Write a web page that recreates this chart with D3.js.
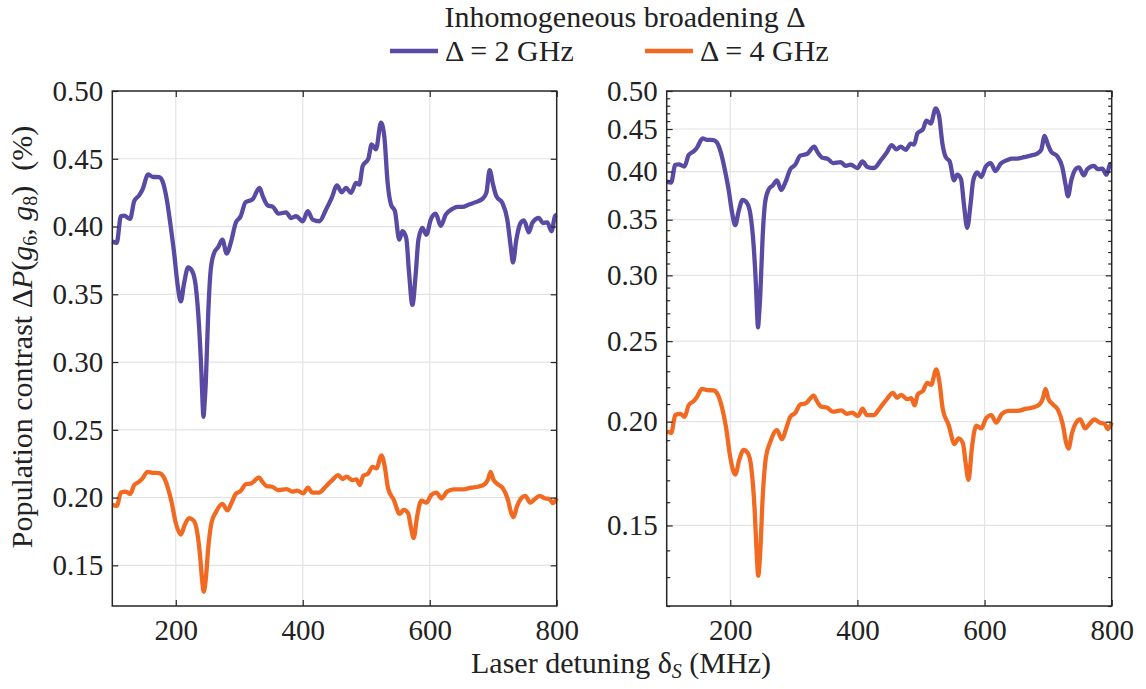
<!DOCTYPE html>
<html>
<head>
<meta charset="utf-8">
<script src="https://cdn.jsdelivr.net/npm/d3@7"></script>
<style>
  html, body { margin: 0; padding: 0; background: #fff; }
  svg text { font-family: "Liberation Serif", "Times New Roman", serif !important; fill: #222; }
</style>
</head>
<body>
<div id="chart"></div>
<script>
// Δ = 2 GHz
const detuning2 = [100, 107, 113.5, 118.7, 128, 134.5, 142.3, 147.6, 156.5, 163.3, 173.8, 179, 185.8, 192, 197.4, 202.6, 207.9, 213, 219.4, 226, 231.5, 236.7, 240.4, 242.2, 243.6, 245.2, 247.2, 250.9, 255, 260.3, 267, 273.4, 280.2, 286.5, 294.4, 302.2, 310, 320.6, 332, 337, 345, 353, 361.7, 373.8, 381.6, 389.5, 400, 407.9, 415.7, 426.2, 436.7, 445.6, 454, 461.3, 468.1, 476, 483.9, 489.1, 494.4, 503.3, 508.5, 515.3, 523.2, 528.4, 533.7, 539, 545.2, 552, 557, 563, 567.5, 572.7, 578, 582.2, 588.5, 594.8, 601.6, 609.4, 617.3, 625.2, 635.7, 643.5, 651.4, 661.9, 672.4, 682.9, 689.2, 694.4, 699.7, 704.9, 714.4, 722.2, 727.5, 731.2, 736.4, 743.1, 748.4, 756.2, 761.5, 772, 778.3, 785.1, 791.9, 797.2, 800];
const contrast2 = [0.389, 0.388, 0.4076, 0.408, 0.4056, 0.4187, 0.423, 0.4273, 0.4384, 0.4367, 0.4364, 0.4335, 0.420, 0.400, 0.3804, 0.358, 0.3447, 0.358, 0.3698, 0.3669, 0.3558, 0.3262, 0.2916, 0.270, 0.2596, 0.268, 0.284, 0.3336, 0.368, 0.3804, 0.385, 0.3903, 0.380, 0.3878, 0.4026, 0.4076, 0.418, 0.4199, 0.4285, 0.4224, 0.4155, 0.4145, 0.4095, 0.4105, 0.4063, 0.4076, 0.4039, 0.4113, 0.4051, 0.4039, 0.4125, 0.4211, 0.4303, 0.4253, 0.4285, 0.4248, 0.4322, 0.431, 0.4446, 0.45, 0.4606, 0.4569, 0.4766, 0.4668, 0.4322, 0.4162, 0.4113, 0.3903, 0.3965, 0.3915, 0.3656, 0.3422, 0.3656, 0.3903, 0.3989, 0.394, 0.4051, 0.4095, 0.4005, 0.4088, 0.413, 0.4145, 0.4145, 0.4162, 0.418, 0.4204, 0.4248, 0.4416, 0.431, 0.4224, 0.4174, 0.4051, 0.3854, 0.3735, 0.3903, 0.4026, 0.4046, 0.3957, 0.4026, 0.4063, 0.4026, 0.4031, 0.3965, 0.4076, 0.4088];

// Δ = 4 GHz
const detuning4 = [100, 107.2, 113.5, 121.4, 128.2, 134.5, 142.3, 147.6, 155.5, 163.3, 173.8, 180.6, 186.9, 193.2, 200, 207.9, 214.2, 221, 227.8, 233, 238.3, 241.4, 244, 247.2, 250.9, 256.1, 262.9, 273.4, 281.3, 287.6, 294.4, 302.2, 310.1, 319, 331.1, 336.3, 343.1, 352, 361, 374.6, 383.5, 391.4, 400.8, 408.1, 414.9, 425.4, 435.9, 446.4, 455.8, 462.6, 468.9, 478.3, 484.6, 489.9, 495.1, 503, 509.8, 516.1, 524, 529.2, 534.4, 543.4, 552.8, 559.1, 565.9, 570.1, 574.8, 580.1, 586.9, 594.8, 602.6, 610.5, 618.4, 627.3, 637.7, 652.4, 665.5, 676, 686.5, 691.8, 695.9, 700.6, 707.5, 715.3, 723.2, 728.4, 732.1, 737.3, 744.1, 750.4, 758.3, 765.1, 773, 780.8, 788.7, 794, 800];
const contrast4 = [0.1946, 0.1939, 0.2037, 0.2044, 0.2027, 0.2093, 0.2117, 0.2142, 0.219, 0.2183, 0.2181, 0.2154, 0.2081, 0.1971, 0.1812, 0.1727, 0.18, 0.1849, 0.1832, 0.1763, 0.1568, 0.1397, 0.1305, 0.1397, 0.1617, 0.1812, 0.189, 0.1954, 0.1905, 0.1959, 0.2027, 0.2049, 0.2098, 0.2105, 0.2149, 0.2117, 0.2085, 0.208, 0.2056, 0.2063, 0.2044, 0.2051, 0.2032, 0.2073, 0.2037, 0.2037, 0.208, 0.2129, 0.2166, 0.2137, 0.2154, 0.2129, 0.2134, 0.2093, 0.2159, 0.2178, 0.2227, 0.2215, 0.2312, 0.2227, 0.2068, 0.1983, 0.188, 0.191, 0.1885, 0.1788, 0.1702, 0.1861, 0.1978, 0.1963, 0.202, 0.2037, 0.1995, 0.2044, 0.2061, 0.2061, 0.2073, 0.208, 0.2098, 0.2134, 0.219, 0.2129, 0.2098, 0.2068, 0.1983, 0.1885, 0.1856, 0.1934, 0.1995, 0.2012, 0.1963, 0.1988, 0.2012, 0.1995, 0.1988, 0.1959, 0.1995];

const xTicks = [200, 400, 600, 800];
const yTicks = [0.15, 0.20, 0.25, 0.30, 0.35, 0.40, 0.45, 0.50];
const legendLabels = ["\u0394 = 2 GHz", "\u0394 = 4 GHz"];
const colors = ["#5a4aa3", "#f26a22"];

const W = 1146, H = 689;
const plotTop = 91, plotBottom = 606;

const svg = d3.select("#chart").append("svg")
  .attr("width", W).attr("height", H);

const series = [
  detuning2.map((d, i) => ({x: d, y: contrast2[i]})),
  detuning4.map((d, i) => ({x: d, y: contrast4[i]}))
];

function drawPanel(left, right, yScaleType) {
  const x = d3.scaleLinear().domain([100, 800]).range([left, right]);
  const y = (yScaleType === "log" ? d3.scaleLog() : d3.scaleLinear())
    .domain([0.12, 0.50]).range([plotBottom, plotTop]);

  const g = svg.append("g");

  // grid
  g.selectAll(".gx").data(xTicks.filter(t => t < 800)).enter().append("line")
    .attr("x1", d => x(d)).attr("x2", d => x(d))
    .attr("y1", plotTop).attr("y2", plotBottom)
    .attr("stroke", "#e3e3e3").attr("stroke-width", 1.2);
  g.selectAll(".gy").data(yTicks.filter(t => t < 0.5)).enter().append("line")
    .attr("x1", left).attr("x2", right)
    .attr("y1", d => y(d)).attr("y2", d => y(d))
    .attr("stroke", "#e3e3e3").attr("stroke-width", 1.2);

  // lines
  const line = d3.line().x(d => x(d.x)).y(d => y(d.y)).curve(d3.curveMonotoneX);
  series.forEach((s, i) => {
    g.append("path").datum(s)
      .attr("d", line)
      .attr("fill", "none")
      .attr("stroke", colors[i])
      .attr("stroke-width", 4.3)
      .attr("stroke-linejoin", "round");
  });

  // axes (inward ticks, mirrored)
  const tick = 6;
  g.append("g").attr("transform", `translate(0,${plotBottom})`)
    .call(d3.axisBottom(x).tickValues(xTicks).tickSize(-tick).tickPadding(13).tickFormat(d3.format("d")))
    .call(a => a.select(".domain").remove());
  g.append("g").attr("transform", `translate(0,${plotTop})`)
    .call(d3.axisTop(x).tickValues(xTicks).tickSize(-tick).tickFormat(""))
    .call(a => a.select(".domain").remove());
  g.append("g").attr("transform", `translate(${left},0)`)
    .call(d3.axisLeft(y).tickValues(yTicks).tickSize(-tick).tickPadding(9).tickFormat(d3.format(".2f")))
    .call(a => a.select(".domain").remove());
  g.append("g").attr("transform", `translate(${right},0)`)
    .call(d3.axisRight(y).tickValues(yTicks).tickSize(-tick).tickFormat(""))
    .call(a => a.select(".domain").remove());

  if (yScaleType === "log") {
    const minor = d3.range(12, 50).map(v => v / 100).filter(v => !yTicks.some(t => Math.abs(t - v) < 1e-6));
    g.append("g").attr("transform", `translate(${left},0)`)
      .call(d3.axisLeft(y).tickValues(minor).tickSize(-3.5).tickFormat(""))
      .call(a => a.select(".domain").remove());
    g.append("g").attr("transform", `translate(${right},0)`)
      .call(d3.axisRight(y).tickValues(minor).tickSize(-3.5).tickFormat(""))
      .call(a => a.select(".domain").remove());
  }

  g.selectAll("g").attr("font-family", "Liberation Serif").attr("font-size", null);
  g.selectAll(".tick line").attr("stroke", "#262626").attr("stroke-width", 1.2);
  g.selectAll(".tick text").style("font-size", "29px").attr("fill", "#222");

  g.append("rect")
    .attr("x", left).attr("y", plotTop)
    .attr("width", right - left).attr("height", plotBottom - plotTop)
    .attr("fill", "none").attr("stroke", "#262626").attr("stroke-width", 1.5);
}

drawPanel(112.3, 556.7, "linear");
drawPanel(666.7, 1111.7, "log");

// legend
svg.append("text").attr("x", 625).attr("y", 27)
  .attr("text-anchor", "middle").style("font-size", "30px")
  .text("Inhomogeneous broadening \u0394");
const legendX = [390, 645];
legendLabels.forEach((lab, i) => {
  svg.append("line")
    .attr("x1", legendX[i]).attr("x2", legendX[i] + 48)
    .attr("y1", 51).attr("y2", 51)
    .attr("stroke", colors[i]).attr("stroke-width", 4.3);
  svg.append("text").attr("x", legendX[i] + 55).attr("y", 61)
    .style("font-size", "30px").text(lab);
});

// x label
const xl = svg.append("text").attr("x", 621).attr("y", 673)
  .attr("text-anchor", "middle").style("font-size", "30px");
xl.append("tspan").text("Laser detuning \u03b4");
xl.append("tspan").attr("font-style", "italic").attr("dy", 5).style("font-size", "20px").text("S");
xl.append("tspan").attr("dy", -5).text(" (MHz)");

// y label
const yl = svg.append("text")
  .attr("transform", "translate(32,337) rotate(-90)")
  .attr("text-anchor", "middle").style("font-size", "30px");
yl.append("tspan").text("Population contrast \u0394");
yl.append("tspan").attr("font-style", "italic").text("P");
yl.append("tspan").text("(");
yl.append("tspan").attr("font-style", "italic").text("g");
yl.append("tspan").attr("dy", 5).style("font-size", "20px").text("6");
yl.append("tspan").attr("dy", -5).text(", ");
yl.append("tspan").attr("font-style", "italic").text("g");
yl.append("tspan").attr("dy", 5).style("font-size", "20px").text("8");
yl.append("tspan").attr("dy", -5).text(")\u00a0\u00a0(%)");
</script>
</body>
</html>
